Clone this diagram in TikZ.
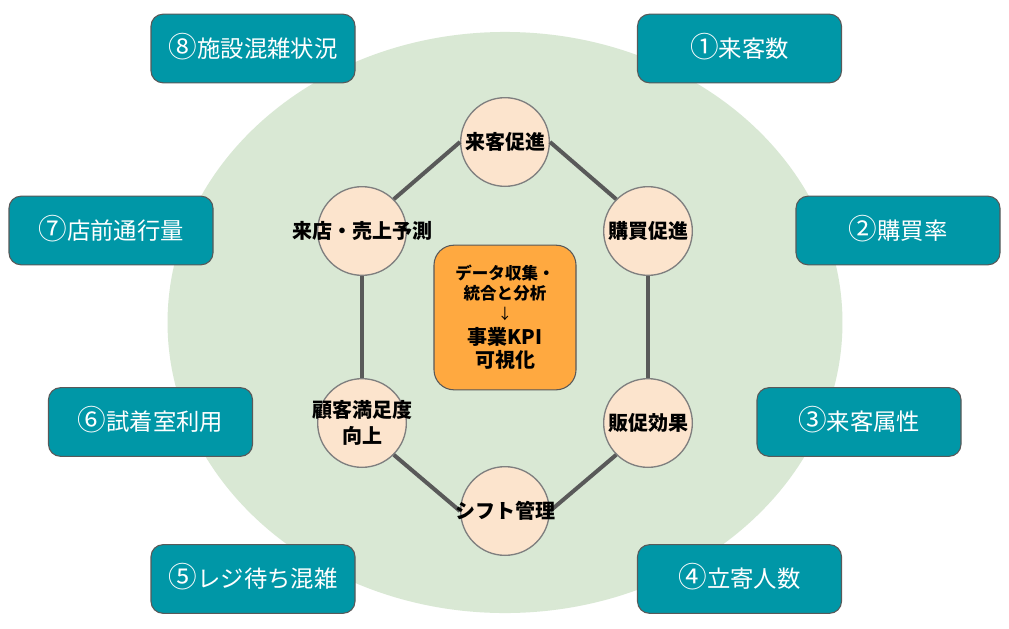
\documentclass[tikz,border=0pt]{standalone}
\usepackage{fontspec}
\setmainfont{Noto Sans CJK JP}
\newfontfamily\jp{Noto Sans CJK JP}
\newcommand{\cdig}[1]{\smash{\fontsize{21.5pt}{20pt}\selectfont #1}}
\definecolor{bggreen}{HTML}{D9E8D4}
\definecolor{teal1}{HTML}{0097A7}
\definecolor{peach}{HTML}{FCE4CD}
\definecolor{orange1}{HTML}{FFA940}
\definecolor{linegray}{HTML}{595959}
\definecolor{bordergray}{HTML}{7F7F7F}
\tikzset{
  kpibox/.style={draw=linegray, line width=0.8pt, fill=teal1, rounded corners=9pt,
    minimum width=153pt, minimum height=51.5pt, text=white, font=\jp\fontsize{17.5pt}{20pt}\selectfont},
  circ/.style={circle, draw=bordergray, line width=1pt, fill=peach, minimum size=66.5pt, inner sep=0pt},
  ctext/.style={font=\jp\bfseries\fontsize{15pt}{19pt}\selectfont, align=center, text=black},
  link/.style={draw=linegray, line width=3pt},
  centerbox/.style={draw=linegray, line width=0.8pt, fill=orange1, rounded corners=15pt,
    minimum width=106.5pt, minimum height=108.5pt}
}
\begin{document}
\begin{tikzpicture}[x=0.75pt,y=-0.75pt]
\useasboundingbox (0,0) rectangle (1009,628);
\fill[white] (0,0) rectangle (1009,628);
\fill[bggreen] (505,322.5) ellipse [x radius=253.1pt, y radius=217.9pt];

% outer boxes
\node[kpibox] (k8) at (253,48.5) {\cdig{⑧}施設混雑状況};
\node[kpibox] (k1) at (739.5,48.5) {\cdig{①}来客数};
\node[kpibox] (k7) at (111,230.5) {\cdig{⑦}店前通行量};
\node[kpibox] (k2) at (898,230.5) {\cdig{②}購買率};
\node[kpibox] (k6) at (150.5,422) {\cdig{⑥}試着室利用};
\node[kpibox] (k3) at (859,422) {\cdig{③}来客属性};
\node[kpibox] (k5) at (253,579) {\cdig{⑤}レジ待ち混雑};
\node[kpibox] (k4) at (739.5,579) {\cdig{④}立寄人数};

% circles
\node[circ] (c1) at (505,142) {};
\node[circ] (c2) at (648,231) {};
\node[circ] (c3) at (648,423) {};
\node[circ] (c4) at (505,511) {};
\node[circ] (c5) at (362,423) {};
\node[circ] (c6) at (362,231) {};

% connectors
\draw[link] (c1.west) -- (c6.north east);
\draw[link] (c1.east) -- (c2.north west);
\draw[link] (c2.south) -- (c3.north);
\draw[link] (c3.south west) -- (c4.east);
\draw[link] (c4.west) -- (c5.south east);
\draw[link] (c6.south) -- (c5.north);

% circle labels
\node[ctext] (t1) at (c1) {来客促進};
\node[ctext] (t2) at (c2) {購買促進};
\node[ctext] (t3) at (c3) {販促効果};
\node[ctext] (t4) at (c4) {シフト管理};
\node[ctext] (t5) at (c5) {顧客満足度\\向上};
\node[ctext] (t6) at (c6) {来店・売上予測};

% center box
\node[centerbox] (cb) at (505,317.5) {};
\node[font=\jp\bfseries\fontsize{12.4pt}{15pt}\selectfont, align=center] (cbt1) at (505,283) {データ収集・\\統合と分析};
\node[font=\jp\fontsize{11pt}{12pt}\selectfont] (cbt2) at (505,314) {↓};
\node[font=\jp\bfseries\fontsize{15pt}{17.5pt}\selectfont, align=center] (cbt3) at (505,348.5) {事業KPI\\可視化};
\end{tikzpicture}
\end{document}
